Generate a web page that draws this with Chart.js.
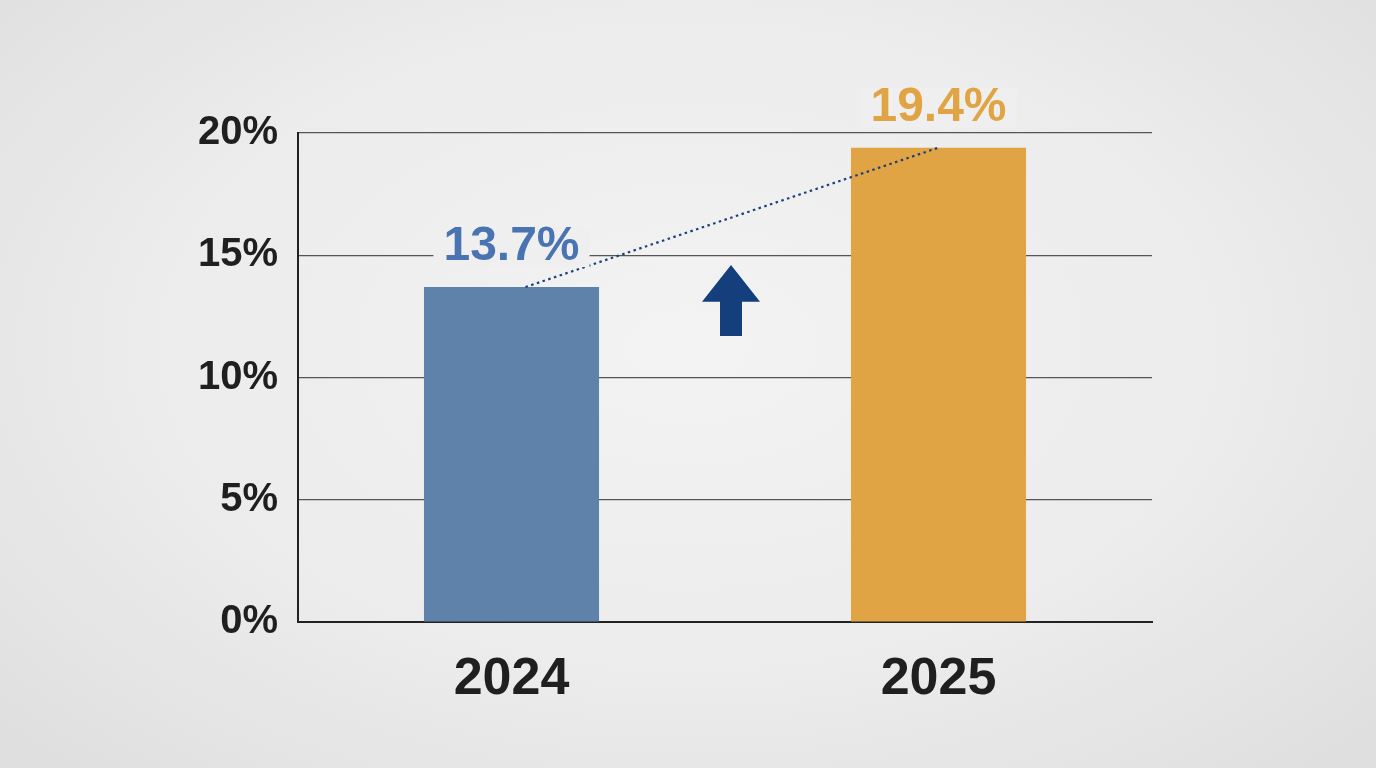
<!DOCTYPE html>
<html><head><meta charset="utf-8">
<script src="https://cdn.jsdelivr.net/npm/chart.js@4"></script>
<style>
html,body{margin:0;padding:0;width:1376px;height:768px;overflow:hidden;
background:radial-gradient(ellipse at 50% 45%,#f3f3f3 0%,#ececec 55%,#dedede 100%);}
canvas{display:block}
</style></head><body>
<canvas id="c" width="1376" height="768"></canvas>
<script>
const categories = ['2024', '2025'];
const values = [13.7, 19.4];
const valueLabels = ['13.7%', '19.4%'];
const yTicks = [0, 5, 10, 15, 20];
const barColors = ['#5f82ab', '#e0a445'];
const labelColors = ['#4a73b2', '#e0a445'];
const FONT = '"Liberation Sans", Arial, sans-serif';

const overlay = {
  id: 'overlay',
  afterDatasetsDraw(chart) {
    const ctx = chart.ctx;
    const meta = chart.getDatasetMeta(0);
    const y = chart.scales.y;
    const b0 = meta.data[0], b1 = meta.data[1];
    ctx.save();
    ctx.strokeStyle = '#1e3f7a'; ctx.lineWidth = 2.2; ctx.setLineDash([2.5, 3.5]);
    ctx.beginPath(); ctx.moveTo(b0.x + 14, b0.y); ctx.lineTo(b1.x, b1.y); ctx.stroke();
    ctx.restore();
    const ax = (b0.x + b1.x) / 2 + 6, top = y.getPixelForValue(14.6), bot = y.getPixelForValue(11.7);
    const mid = y.getPixelForValue(13.1);
    ctx.save(); ctx.fillStyle = '#143f7c';
    ctx.beginPath();
    ctx.moveTo(ax, top); ctx.lineTo(ax + 29, mid); ctx.lineTo(ax + 11, mid); ctx.lineTo(ax + 11, bot);
    ctx.lineTo(ax - 11, bot); ctx.lineTo(ax - 11, mid); ctx.lineTo(ax - 29, mid); ctx.closePath(); ctx.fill();
    ctx.restore();
    ctx.save();
    ctx.font = 'bold 48px ' + FONT;
    ctx.textAlign = 'center'; ctx.textBaseline = 'middle';
    meta.data.forEach((bar, i) => {
      const ly = bar.y - 40;
      const w = ctx.measureText(valueLabels[i]).width;
      ctx.fillStyle = '#efefef';
      ctx.fillRect(bar.x - w / 2 - 10, ly - 20, w + 20, 40);
      ctx.fillStyle = labelColors[i];
      ctx.fillText(valueLabels[i], bar.x, ly);
    });
    ctx.restore();
  }
};

new Chart(document.getElementById('c'), {
  type: 'bar',
  data: { labels: categories, datasets: [{ data: values, backgroundColor: barColors,
    categoryPercentage: 1, barPercentage: 0.41 }] },
  options: {
    responsive: false, animation: false, devicePixelRatio: 1,
    layout: { padding: { top: 133, right: 224, left: 0, bottom: 0 } },
    plugins: { legend: { display: false }, tooltip: { enabled: false } },
    scales: {
      y: { min: 0, max: 20,
        afterFit(s) { s.width = 298; },
        afterBuildTicks(s) { s.ticks = yTicks.map(v => ({ value: v })); },
        ticks: { padding: 20, color: '#1f1f1f', font: { size: 40, weight: 'bold', family: FONT },
          callback: v => v + '%' },
        grid: { color: '#555', lineWidth: 1.2, drawTicks: false },
        border: { color: '#222', width: 2 } },
      x: {
        afterFit(s) { s.height = 146; },
        ticks: { padding: 18, color: '#1f1f1f', font: { size: 52, weight: 'bold', family: FONT } },
        grid: { display: false },
        border: { color: '#222', width: 2 } }
    }
  },
  plugins: [overlay]
});
</script></body></html>
